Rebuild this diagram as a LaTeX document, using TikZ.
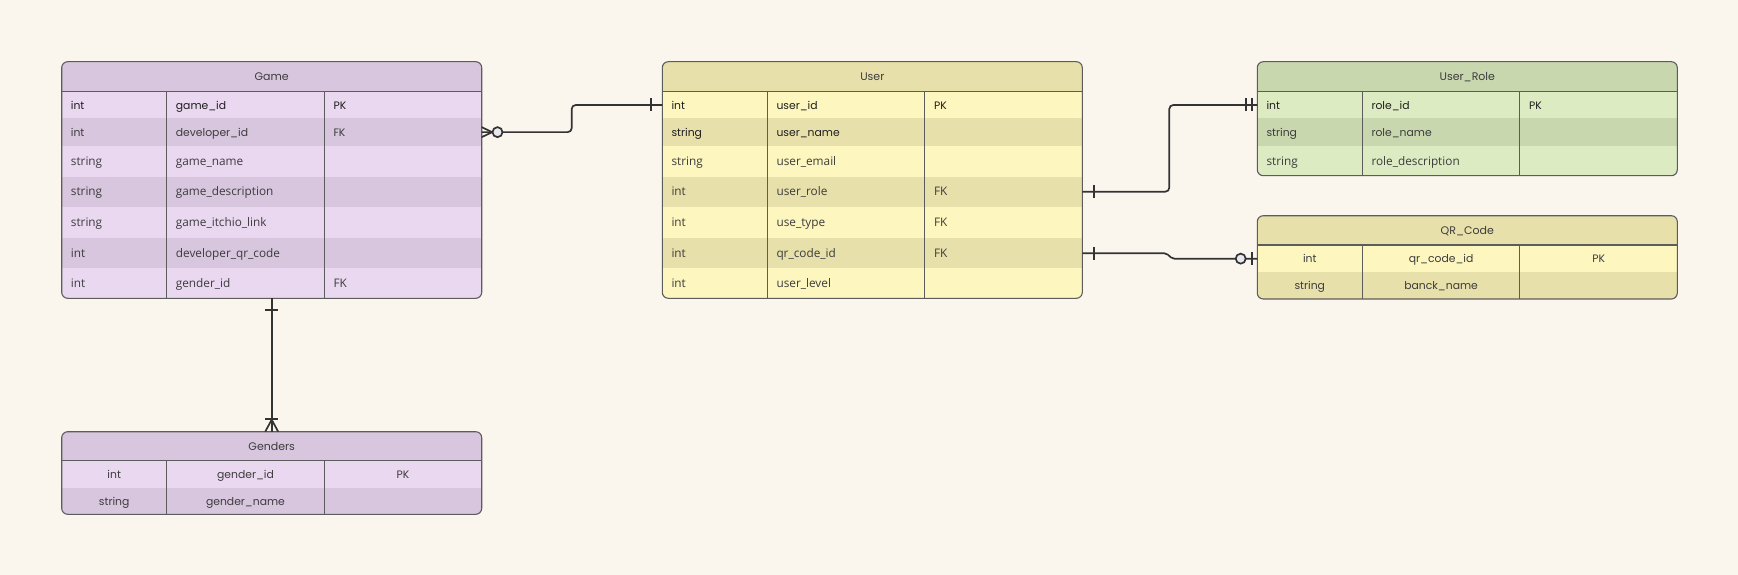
\documentclass[tikz,border=0pt]{standalone}
\usepackage{fontspec}
\setmainfont{Open Sans}
\newfontfamily\geo{Poppins}
\usetikzlibrary{calc}
\definecolor{bg}{HTML}{FAF6EE}
\definecolor{pl}{HTML}{EAD8F1}
\definecolor{pd}{HTML}{D8C6DF}
\definecolor{yl}{HTML}{FDF6BF}
\definecolor{yd}{HTML}{E8E0AA}
\definecolor{gl}{HTML}{DDEBC3}
\definecolor{gd}{HTML}{C9D7AF}
\definecolor{bord}{HTML}{5C5C5C}
\definecolor{lnc}{HTML}{333333}
\definecolor{circ}{HTML}{E9E8EE}
\definecolor{txA}{HTML}{1E1E1E}
\definecolor{txB}{HTML}{3C3C3C}
\newif\ifercenter
\newcommand\erRow[9]{%
 \pgfmathsetmacro\erH{#4-#3}%
 \pgfmathsetmacro\erY{(#3+#4)/2}%
 \pgfmathsetmacro\erX{#2+210}%
 \pgfmathsetmacro\erB{\erY+4.3}%
 \node[rowbox,fill=#5,minimum height=\erH pt] (#1) at (\erX,\erY) {};%
 \ifercenter
  \node[#6,anchor=base] (#1-a) at (#2+52.5,\erB) {#7};%
  \node[#6,anchor=base] (#1-b) at (#2+183.8,\erB) {#8};%
  \node[#6,anchor=base] (#1-c) at (#2+341.3,\erB) {#9};%
 \else
  \node[#6,anchor=base west] (#1-a) at (#2+9,\erB) {#7};%
  \node[#6,anchor=base west] (#1-b) at (#2+114,\erB) {#8};%
  \node[#6,anchor=base west] (#1-c) at (#2+271.6,\erB) {#9};%
 \fi}
\newcommand\erFrame[5]{% xl, top, hb, bottom, name
 \draw[borderline,rounded corners=6] (#1,#2) rectangle (#1+420,#4);
 \draw[borderline] (#1,#3) -- (#1+420,#3);
 \draw[borderline] (#1+105,#3) -- (#1+105,#4);
 \draw[borderline] (#1+262.6,#3) -- (#1+262.6,#4);}
\begin{document}
\begin{tikzpicture}[x=1pt,y=-1pt,
  rowbox/.style={rectangle,inner sep=0,outer sep=0,minimum width=420pt,draw=none},
  georowA/.style={inner sep=0,font=\geo\fontsize{10.8}{13}\selectfont,text=txA},
  georowB/.style={inner sep=0,font=\geo\fontsize{10.8}{13}\selectfont,text=txB},
  humrow/.style={inner sep=0,font=\fontsize{11.8}{14}\selectfont,text=txB},
  titletext/.style={inner sep=0,font=\geo\fontsize{11}{13}\selectfont,text=txB},
  borderline/.style={draw=bord,line width=1.1pt},
  conn/.style={draw=lnc,line width=1.7pt},
]
\useasboundingbox[fill=bg] (0,0) rectangle (1738,575);

% ---------- Game ----------
\begin{scope}
\clip[rounded corners=6] (61.7,61.7) rectangle (481.7,298.3);
\node[rowbox,fill=pd,minimum height=30pt] (game-h) at (271.7,76.7) {};
\node[titletext,anchor=base] (game-t) at (271.7,80.9) {Game};
\ercenterfalse
\erRow{game-r1}{61.7}{91.7}{118.3}{pl}{georowA}{int}{game\_id}{PK}
\erRow{game-r2}{61.7}{118.3}{146}{pd}{georowB}{int}{developer\_id}{FK}
\erRow{game-r3}{61.7}{146}{176.7}{pl}{humrow}{string}{game\_name}{}
\erRow{game-r4}{61.7}{176.7}{206.7}{pd}{humrow}{string}{game\_description}{}
\erRow{game-r5}{61.7}{206.7}{238.3}{pl}{humrow}{string}{game\_itchio\_link}{}
\erRow{game-r6}{61.7}{238.3}{268.3}{pd}{humrow}{int}{developer\_qr\_code}{}
\erRow{game-r7}{61.7}{268.3}{298.3}{pl}{humrow}{int}{gender\_id}{FK}
\end{scope}
\erFrame{61.7}{61.7}{91.7}{298.3}{game}

% ---------- User ----------
\begin{scope}
\clip[rounded corners=6] (662.3,61.7) rectangle (1082.3,298.3);
\node[rowbox,fill=yd,minimum height=30pt] (user-h) at (872.3,76.7) {};
\node[titletext,anchor=base] (user-t) at (872.3,80.9) {User};
\ercenterfalse
\erRow{user-r1}{662.3}{91.7}{118.3}{yl}{georowA}{int}{user\_id}{PK}
\erRow{user-r2}{662.3}{118.3}{146}{yd}{georowA}{string}{user\_name}{}
\erRow{user-r3}{662.3}{146}{176.7}{yl}{humrow}{string}{user\_email}{}
\erRow{user-r4}{662.3}{176.7}{206.7}{yd}{humrow}{int}{user\_role}{FK}
\erRow{user-r5}{662.3}{206.7}{238.3}{yl}{humrow}{int}{use\_type}{FK}
\erRow{user-r6}{662.3}{238.3}{268.3}{yd}{humrow}{int}{qr\_code\_id}{FK}
\erRow{user-r7}{662.3}{268.3}{298.3}{yl}{humrow}{int}{user\_level}{}
\end{scope}
\erFrame{662.3}{61.7}{91.7}{298.3}{user}

% ---------- User_Role ----------
\begin{scope}
\clip[rounded corners=6] (1257.3,61.7) rectangle (1677.3,175.7);
\node[rowbox,fill=gd,minimum height=30pt] (role-h) at (1467.3,76.7) {};
\node[titletext,anchor=base] (role-t) at (1467.3,80.9) {User\_Role};
\ercenterfalse
\erRow{role-r1}{1257.3}{91.7}{118.3}{gl}{georowA}{int}{role\_id}{PK}
\erRow{role-r2}{1257.3}{118.3}{145.7}{gd}{georowB}{string}{role\_name}{}
\erRow{role-r3}{1257.3}{145.7}{175.7}{gl}{humrow}{string}{role\_description}{}
\end{scope}
\erFrame{1257.3}{61.7}{91.7}{175.7}{role}

% ---------- QR_Code ----------
\begin{scope}
\clip[rounded corners=6] (1257.3,215.7) rectangle (1677.3,299);
\node[rowbox,fill=yd,minimum height=29.3pt] (qr-h) at (1467.3,230.35) {};
\node[titletext,anchor=base] (qr-t) at (1467.3,234.5) {QR\_Code};
\ercentertrue
\erRow{qr-r1}{1257.3}{245}{272.3}{yl}{georowB}{int}{qr\_code\_id}{PK}
\erRow{qr-r2}{1257.3}{272.3}{299}{yd}{georowB}{string}{banck\_name}{}
\end{scope}
\erFrame{1257.3}{215.7}{245}{299}{qr}

% ---------- Genders ----------
\begin{scope}
\clip[rounded corners=6] (61.7,431.7) rectangle (481.7,514.3);
\node[rowbox,fill=pd,minimum height=29pt] (gen-h) at (271.7,446.2) {};
\node[titletext,anchor=base] (gen-t) at (271.7,450.4) {Genders};
\ercentertrue
\erRow{gen-r1}{61.7}{460.7}{488.3}{pl}{georowB}{int}{gender\_id}{PK}
\erRow{gen-r2}{61.7}{488.3}{514.3}{pd}{georowB}{string}{gender\_name}{}
\end{scope}
\erFrame{61.7}{431.7}{460.7}{514.3}{gen}

% ---------- Connectors ----------
% Game (zero or many) -> User (one)
\draw[conn,rounded corners=4] (game-r2.east) -- ([xshift=90pt]game-r2.east) |- (user-r1.west);
\draw[conn] ([yshift=5pt]game-r2.east) -- ([xshift=10.5pt]game-r2.east) -- ([yshift=-5pt]game-r2.east);
\draw[conn,fill=circ] ([xshift=15.8pt]game-r2.east) circle[radius=5];
\draw[conn] ([xshift=-11.3pt,yshift=6.5pt]user-r1.west) -- ([xshift=-11.3pt,yshift=-6.5pt]user-r1.west);

% User (one) -> User_Role (exactly one)
\draw[conn,rounded corners=4] (user-r4.east) -- ([xshift=87pt]user-r4.east) |- (role-r1.west);
\draw[conn] ([xshift=11.7pt,yshift=6.5pt]user-r4.east) -- ([xshift=11.7pt,yshift=-6.5pt]user-r4.east);
\draw[conn] ([xshift=-11.3pt,yshift=6.5pt]role-r1.west) -- ([xshift=-11.3pt,yshift=-6.5pt]role-r1.west);
\draw[conn] ([xshift=-5.6pt,yshift=6.5pt]role-r1.west) -- ([xshift=-5.6pt,yshift=-6.5pt]role-r1.west);

% User (one) -> QR_Code (zero or one)
\draw[conn,rounded corners=2] (user-r6.east) -- ([xshift=84pt]user-r6.east) -- ([xshift=-85pt]qr-r1.west) -- (qr-r1.west);
\draw[conn] ([xshift=11.7pt,yshift=6.5pt]user-r6.east) -- ([xshift=11.7pt,yshift=-6.5pt]user-r6.east);
\draw[conn,fill=circ] ([xshift=-16.6pt]qr-r1.west) circle[radius=5];
\draw[conn] ([xshift=-5pt,yshift=6.5pt]qr-r1.west) -- ([xshift=-5pt,yshift=-6.5pt]qr-r1.west);

% Game (one) -> Genders (one or many)
\draw[conn] (game-r7.south) -- (gen-h.north);
\draw[conn] ([xshift=-6.5pt,yshift=-11.7pt]game-r7.south) -- ([xshift=6.5pt,yshift=-11.7pt]game-r7.south);
\draw[conn] ([xshift=-6.5pt]gen-h.north) -- ([yshift=12pt]gen-h.north) -- ([xshift=6.5pt]gen-h.north);
\draw[conn] ([xshift=-6.5pt,yshift=12.5pt]gen-h.north) -- ([xshift=6.5pt,yshift=12.5pt]gen-h.north);
\end{tikzpicture}
\end{document}
